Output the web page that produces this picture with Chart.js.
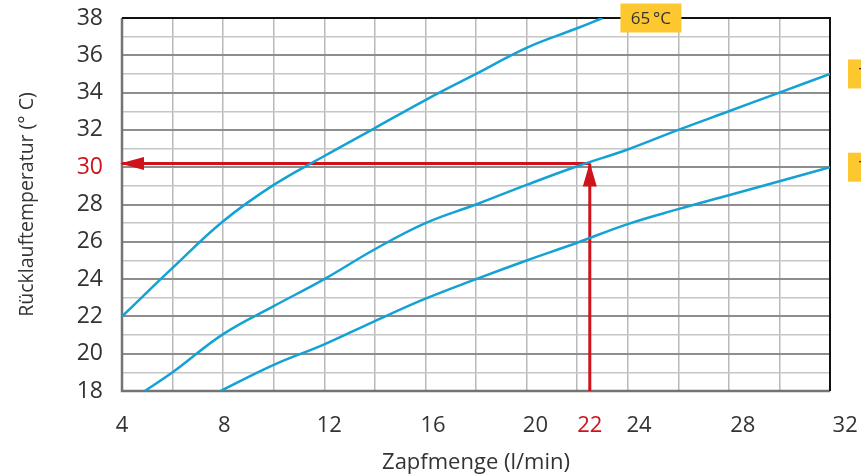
<!DOCTYPE html>
<html>
<head>
<meta charset="utf-8">
<script src="https://cdn.jsdelivr.net/npm/chart.js@4.4.1/dist/chart.umd.min.js"></script>
<style>
  html, body { margin: 0; padding: 0; background: #fff; }
  #wrap { width: 861px; height: 476px; position: relative; }
</style>
</head>
<body>
<div id="wrap"><canvas id="chart"></canvas></div>
<script>
// ── Values ────────────────────────────────────────────────────────────
const flow65 = [4, 6, 8, 10, 12, 14, 16, 18, 20, 22, 23];
const temp65 = [22, 24.6, 27.1, 29.05, 30.6, 32.1, 33.6, 35.0, 36.4, 37.45, 38];
const flow70 = [4.9, 6, 8, 10, 12, 14, 16, 18, 20, 22, 24, 26, 28, 30, 32];
const temp70 = [18, 19.0, 21.05, 22.55, 24.0, 25.6, 27.0, 28.0, 29.05, 30.05, 30.95, 32.0, 33.0, 34.0, 35.0];
const flow75 = [7.9, 10, 12, 14, 16, 18, 20, 22, 24, 26, 28, 30, 32];
const temp75 = [18, 19.4, 20.5, 21.75, 22.95, 24.0, 25.0, 25.95, 26.95, 27.75, 28.5, 29.25, 30.0];
const curveLabels = ['65\u2009°C', '70\u2009°C', '75\u2009°C'];

const xTickLabels = ['4', '8', '12', '16', '20', '22', '24', '28', '32'];
const xTickAt = [4, 8.05, 12.2, 16.3, 20.35, 22.5, 24.45, 28.55, 32.6]; // where the printed labels sit
const readFlow = 22.5;   // example reading (red arrows)
const readTemp = 30.2;

const BLUE = '#14a2d5';
const RED = '#d0121b';
const TEXT = '#333333';
const FONT = "'Open Sans', 'DejaVu Sans', sans-serif";

const pts = (xs, ys) => xs.map((x, i) => ({ x, y: ys[i] }));

function curve(xs, ys) {
    return {
        data: pts(xs, ys),
        borderColor: BLUE,
        borderWidth: 2.5,
        pointRadius: 0,
        showLine: true,
        tension: 0.4,
    };
}

// no extra room for overhanging tick labels
function noOverhang(s) {
    s.paddingTop = 0;
    s.paddingBottom = 0;
    s.paddingLeft = 0;
    s.paddingRight = 0;
}

// ── Frame, arrow heads and curve tags ────────────────────────────────
const decor = {
    id: 'decor',
    beforeDatasetsDraw(chart) {
        const { ctx, chartArea: a } = chart;
        ctx.save();
        ctx.lineWidth = 2.5;
        ctx.strokeStyle = '#747474';
        ctx.beginPath();
        ctx.moveTo(a.left, a.top);
        ctx.lineTo(a.left, a.bottom);
        ctx.lineTo(a.right, a.bottom);
        ctx.stroke();
        ctx.lineWidth = 2;
        ctx.strokeStyle = '#111';
        ctx.beginPath();
        ctx.moveTo(a.left, a.top);
        ctx.lineTo(a.right, a.top);
        ctx.lineTo(a.right, a.bottom);
        ctx.stroke();
        ctx.restore();
    },
    afterDatasetsDraw(chart) {
        const { ctx, chartArea: a, scales: { x, y } } = chart;
        const ax = x.getPixelForValue(readFlow);
        const ay = y.getPixelForValue(readTemp);
        ctx.save();
        ctx.fillStyle = RED;
        // left arrow head
        const lx = a.left - 2;
        ctx.beginPath();
        ctx.moveTo(lx, ay);
        ctx.lineTo(lx + 24, ay - 6.5);
        ctx.lineTo(lx + 24, ay + 6.5);
        ctx.closePath();
        ctx.fill();
        // up arrow head
        ctx.beginPath();
        ctx.moveTo(ax, ay - 1);
        ctx.lineTo(ax - 7, ay + 23);
        ctx.lineTo(ax + 7, ay + 23);
        ctx.closePath();
        ctx.fill();

        // yellow tags
        const tags = [
            [x.getPixelForValue(flow65[flow65.length - 1]) + 48, a.top, curveLabels[0]],
            [a.right + 18 + 30, y.getPixelForValue(temp70[temp70.length - 1]), curveLabels[1]],
            [a.right + 18 + 30, y.getPixelForValue(temp75[temp75.length - 1]), curveLabels[2]],
        ];
        ctx.font = '17px ' + FONT;
        ctx.textAlign = 'center';
        ctx.textBaseline = 'middle';
        tags.forEach(([cx, cy, label]) => {
            ctx.fillStyle = '#fdc82f';
            ctx.fillRect(cx - 30, cy - 14.5, 61, 29);
            ctx.fillStyle = TEXT;
            ctx.fillText(label, cx + 0.5, cy + 1);
        });
        ctx.restore();
    }
};

new Chart(document.getElementById('chart'), {
    type: 'scatter',
    data: {
        datasets: [
            curve(flow65, temp65),
            curve(flow70, temp70),
            curve(flow75, temp75),
            {
                data: [{ x: xTickAt[0], y: readTemp }, { x: readFlow, y: readTemp }],
                borderColor: RED, borderWidth: 3, pointRadius: 0, showLine: true, clip: false,
            },
            {
                data: [{ x: readFlow, y: 18 }, { x: readFlow, y: readTemp }],
                borderColor: RED, borderWidth: 3, pointRadius: 0, showLine: true, clip: false,
            },
        ]
    },
    options: {
        responsive: true,
        maintainAspectRatio: false,
        animation: false,
        layout: { autoPadding: false, padding: { top: 18, right: 31, bottom: 0, left: 0 } },
        plugins: { legend: { display: false }, tooltip: { enabled: false } },
        scales: {
            x: {
                type: 'linear',
                min: 4, max: 32,
                border: { display: false },
                grid: { color: '#b9b9b9', lineWidth: 1.5, drawTicks: false },
                ticks: { display: false, stepSize: 2 },
                afterFit: (s) => { s.height = 0; noOverhang(s); },
            },
            xl: {
                type: 'linear',
                position: 'bottom',
                min: 4, max: 32,
                border: { display: false },
                grid: { display: false },
                afterBuildTicks: (s) => { s.ticks = xTickAt.map(v => ({ value: v })); },
                ticks: {
                    autoSkip: false,
                    maxRotation: 0,
                    padding: 14,
                    font: { family: FONT, size: 22 },
                    color: (c) => xTickLabels[c.index] === '22' ? RED : TEXT,
                    callback: (v, i) => xTickLabels[i],
                },
                title: {
                    display: true,
                    text: 'Zapfmenge (l/min)',
                    color: TEXT,
                    font: { family: FONT, size: 22 },
                    padding: { top: 5, bottom: 0 },
                },
                afterFit: (s) => { s.height = 85; noOverhang(s); },
            },
            y: {
                min: 18, max: 38,
                border: { display: false },
                grid: {
                    drawTicks: false,
                    color: (c) => c.tick.value % 2 === 0 ? '#8d8d8d' : '#c6c6c6',
                    lineWidth: (c) => c.tick.value % 2 === 0 ? 2 : 1.5,
                },
                ticks: {
                    stepSize: 1,
                    autoSkip: false,
                    padding: 19,
                    font: { family: FONT, size: 23 },
                    color: (c) => c.tick.value === Math.round(readTemp) ? RED : TEXT,
                    callback: (v) => v % 2 === 0 ? v : '',
                },
                title: {
                    display: true,
                    text: 'Rücklauftemperatur (° C)',
                    color: TEXT,
                    font: { family: FONT, size: 19.5 },
                    padding: { top: 16, bottom: 0 },
                },
                afterFit: (s) => { s.width = 122; noOverhang(s); },
            }
        }
    },
    plugins: [decor]
});
</script>
</body>
</html>
